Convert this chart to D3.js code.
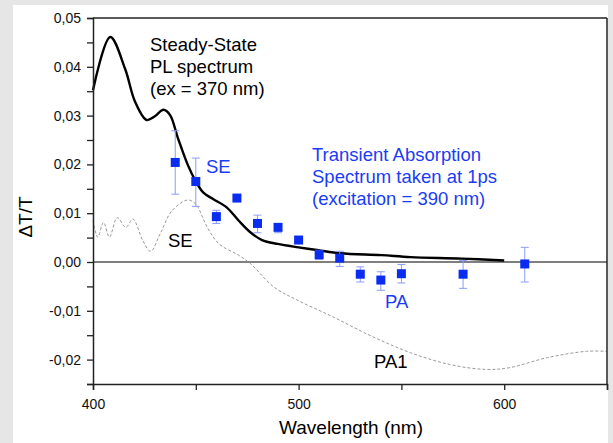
<!DOCTYPE html>
<html>
<head>
  <meta charset="utf-8">
  <title>Transient absorption</title>
  <style>
    body { margin: 0; background: #e6e6e6; font-family: "Liberation Sans", Arial, sans-serif; }
    svg { display: block; }
  </style>
</head>
<body>
  <svg width="613" height="443"></svg>
  <script src="https://d3js.org/d3.v7.min.js"></script>
  <script>
    // steady-state PL spectrum (solid black)
    const plWavelength = [400, 408.4, 415.6, 420.4, 426, 429.9, 434.3, 437.5, 441.3, 446, 449.9, 453.7, 458.4, 465, 470.8, 476.5, 482.2, 489.8, 500, 509.8, 520.3, 540.2, 554.5, 579.3, 600];
    const plValue = [0.0352, 0.0461, 0.0396, 0.0329, 0.0291, 0.0298, 0.0312, 0.0301, 0.0254, 0.0200, 0.0166, 0.0142, 0.0129, 0.0112, 0.0085, 0.0061, 0.0045, 0.0037, 0.0030, 0.0024, 0.0018, 0.0014, 0.0010, 0.0007, 0.0003];

    // dotted grey reference spectrum
    const refWavelength = [400, 402.3, 405.1, 408, 411.8, 416, 419.4, 424.2, 428, 432.7, 438.4, 446, 449.9, 455.6, 461.3, 470.8, 476.5, 487.9, 499.3, 516.5, 535.5, 554.5, 573.5, 590.7, 602, 621, 640, 650];
    const refValue = [0.0085, 0.0051, 0.0081, 0.0051, 0.0091, 0.0071, 0.0088, 0.0044, 0.0022, 0.0058, 0.0105, 0.0127, 0.0119, 0.0071, 0.0037, 0.0014, -0.0003, -0.0051, -0.0078, -0.0112, -0.0152, -0.0186, -0.0210, -0.0220, -0.0217, -0.0196, -0.0183, -0.0183];

    // transient absorption at 1 ps (blue squares with error bars)
    const taWavelength = [440, 450, 460, 470, 480, 490, 500, 510, 520, 530, 540, 550, 580, 610];
    const taValue = [0.0204, 0.0165, 0.0093, 0.0131, 0.0079, 0.0071, 0.0045, 0.0015, 0.0008, -0.0025, -0.0037, -0.0024, -0.0025, -0.0004];
    const taErrHigh = [0.0269, 0.0213, 0.0106, 0.0134, 0.0096, 0.0078, 0.0052, 0.0024, 0.0022, -0.0010, -0.0020, -0.0005, 0.0003, 0.0030];
    const taErrLow = [0.0139, 0.0114, 0.0079, 0.0128, 0.0060, 0.0060, 0.0038, 0.0005, -0.0009, -0.0041, -0.0058, -0.0043, -0.0054, -0.0041];

    const xTicks = [400, 500, 600];
    const yTicks = [-0.02, -0.01, 0, 0.01, 0.02, 0.03, 0.04, 0.05];

    const svg = d3.select("svg");
    svg.append("rect").attr("x", 13).attr("y", 5).attr("width", 595).attr("height", 438).attr("fill", "#fff");

    const x = d3.scaleLinear().domain([400, 650]).range([93, 607]);
    const y = d3.scaleLinear().domain([-0.025, 0.05]).range([384, 18]);
    const fmt = d => d3.format(".2f")(d).replace(".", ",").replace("−", "-");

    // zero line
    svg.append("line")
      .attr("x1", x(400)).attr("x2", x(650)).attr("y1", y(0)).attr("y2", y(0))
      .attr("stroke", "#555").attr("stroke-width", 1.4);

    const line = d3.line().x(d => x(d[0])).y(d => y(d[1])).curve(d3.curveCatmullRom);

    svg.append("path")
      .datum(d3.zip(refWavelength, refValue))
      .attr("d", line).attr("fill", "none")
      .attr("stroke", "#999").attr("stroke-width", 1).attr("stroke-dasharray", "3,2");

    svg.append("path")
      .datum(d3.zip(plWavelength, plValue))
      .attr("d", line).attr("fill", "none")
      .attr("stroke", "#000").attr("stroke-width", 2.4);

    // error bars
    const ta = taWavelength.map((w, i) => ({ w, v: taValue[i], hi: taErrHigh[i], lo: taErrLow[i] }));
    const err = svg.append("g").attr("stroke", "#8a9cff").attr("stroke-width", 1);
    err.selectAll(".v").data(ta).enter().append("line")
      .attr("x1", d => x(d.w)).attr("x2", d => x(d.w)).attr("y1", d => y(d.hi)).attr("y2", d => y(d.lo));
    err.selectAll(".h").data(ta).enter().append("line")
      .attr("x1", d => x(d.w) - 4).attr("x2", d => x(d.w) + 4).attr("y1", d => y(d.hi)).attr("y2", d => y(d.hi));
    err.selectAll(".l").data(ta).enter().append("line")
      .attr("x1", d => x(d.w) - 4).attr("x2", d => x(d.w) + 4).attr("y1", d => y(d.lo)).attr("y2", d => y(d.lo));

    svg.selectAll(".sq").data(ta).enter().append("rect")
      .attr("x", d => x(d.w) - 4.5).attr("y", d => y(d.v) - 4.5)
      .attr("width", 9).attr("height", 9).attr("fill", "#0a2cf0");

    // axes
    const xAxis = svg.append("g").attr("transform", `translate(0,${y(-0.025)})`)
      .call(d3.axisBottom(x).tickValues(d3.range(400, 651, 50)).tickSize(6).tickPadding(9)
        .tickFormat(d => xTicks.includes(d) ? d : ""));
    const yAxis = svg.append("g").attr("transform", `translate(${x(400)},0)`)
      .call(d3.axisLeft(y).tickValues(d3.range(-0.025, 0.0501, 0.005)).tickSize(6).tickPadding(6)
        .tickFormat(d => yTicks.some(t => Math.abs(t - d) < 1e-6) ? fmt(d) : ""));
    [xAxis, yAxis].forEach(a => {
      a.select(".domain").attr("stroke", "#222").attr("stroke-width", 1.5);
      a.selectAll(".tick line").attr("stroke", "#222").attr("stroke-width", 1.3);
      a.selectAll("text").attr("fill", "#111").attr("font-size", 14).attr("font-family", "Liberation Sans, Arial, sans-serif");
    });

    svg.append("line").attr("x1", x(400)).attr("x2", x(650)).attr("y1", y(0.05)).attr("y2", y(0.05))
      .attr("stroke", "#222").attr("stroke-width", 1.5);
    svg.append("line").attr("x1", x(650)).attr("x2", x(650)).attr("y1", y(0.05)).attr("y2", y(-0.025))
      .attr("stroke", "#222").attr("stroke-width", 1.5);

    // labels
    svg.append("text").attr("x", 351).attr("y", 434).attr("text-anchor", "middle")
      .attr("font-size", 19).text("Wavelength (nm)");
    svg.append("text").attr("transform", "translate(32,217) rotate(-90)").attr("text-anchor", "middle")
      .attr("font-size", 19).text("ΔT/T");

    const notes = [
      { t: "Steady-State", x: 150, y: 51, c: "#000" },
      { t: "PL spectrum", x: 150, y: 73, c: "#000" },
      { t: "(ex = 370 nm)", x: 150, y: 95, c: "#000" },
      { t: "Transient Absorption", x: 312, y: 161, c: "#1a3cf5" },
      { t: "Spectrum taken at 1ps", x: 312, y: 183, c: "#1a3cf5" },
      { t: "(excitation = 390 nm)", x: 312, y: 205, c: "#1a3cf5" },
      { t: "SE", x: 206, y: 173, c: "#1a3cf5" },
      { t: "SE", x: 168, y: 247, c: "#000" },
      { t: "PA", x: 385, y: 308, c: "#1a3cf5" },
      { t: "PA1", x: 374, y: 368, c: "#000" }
    ];
    svg.selectAll(".note").data(notes).enter().append("text")
      .attr("x", d => d.x).attr("y", d => d.y).attr("fill", d => d.c)
      .attr("font-size", 18.5).text(d => d.t);
  </script>
</body>
</html>
